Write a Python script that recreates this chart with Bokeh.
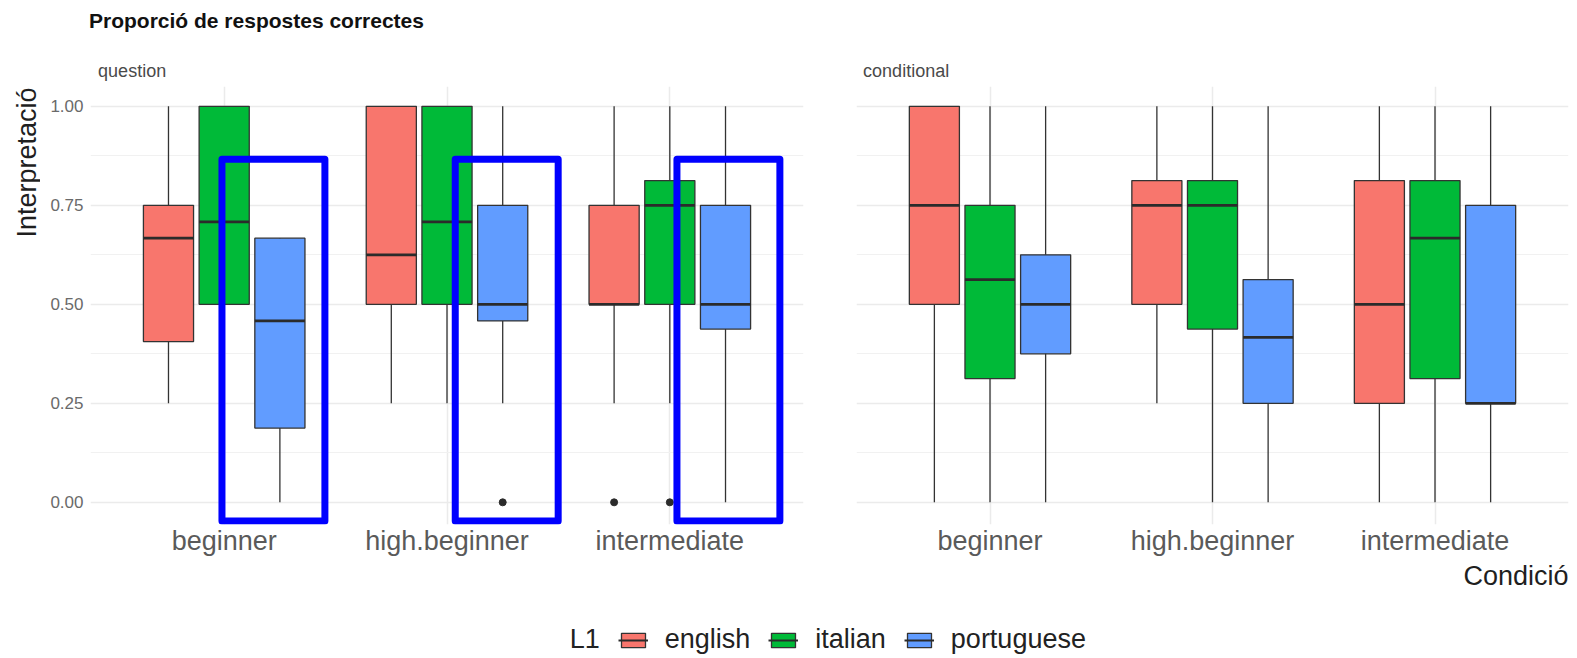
import math
from bokeh.plotting import figure
from bokeh.models import (ColumnDataSource, Range1d, FixedTicker, NumeralTickFormatter,
                          Label, Legend, LegendItem)
from bokeh.layouts import column, row
from bokeh.embed import file_html
from bokeh.resources import INLINE

# ---------------- data ----------------
title_text = "Proporció de respostes correctes"
facets = ["question", "conditional"]
categories = ["beginner", "high.beginner", "intermediate"]
groups = ["english", "italian", "portuguese"]
group_colors = ["#F8766D", "#00BA38", "#619CFF"]
y_ticks = [0.0, 0.25, 0.5, 0.75, 1.0]
y_minor_ticks = [0.125, 0.375, 0.625, 0.875]
y_label = "Interpretació"
x_label = "Condició"
legend_title = "L1"

# values ordered (category, group): beginner e/i/p, high.beginner e/i/p, intermediate e/i/p
question_low = [0.25, 0.5, 0.0, 0.25, 0.25, 0.25, 0.25, 0.25, 0.0]
question_q1 = [0.406, 0.5, 0.1875, 0.5, 0.5, 0.458, 0.5, 0.5, 0.4375]
question_med = [0.667, 0.708, 0.458, 0.625, 0.708, 0.5, 0.5, 0.75, 0.5]
question_q3 = [0.75, 1.0, 0.667, 1.0, 1.0, 0.75, 0.75, 0.8125, 0.75]
question_high = [1.0, 1.0, 0.667, 1.0, 1.0, 1.0, 1.0, 1.0, 1.0]
question_out_cat = ["high.beginner", "intermediate", "intermediate"]
question_out_group = ["portuguese", "english", "italian"]
question_out_val = [0.0, 0.0, 0.0]

conditional_low = [0.0, 0.0, 0.0, 0.25, 0.0, 0.0, 0.0, 0.0, 0.0]
conditional_q1 = [0.5, 0.3125, 0.375, 0.5, 0.4375, 0.25, 0.25, 0.3125, 0.25]
conditional_med = [0.75, 0.5625, 0.5, 0.75, 0.75, 0.4167, 0.5, 0.667, 0.25]
conditional_q3 = [1.0, 0.75, 0.625, 0.8125, 0.8125, 0.5625, 0.8125, 0.8125, 0.75]
conditional_high = [1.0, 1.0, 1.0, 1.0, 1.0, 1.0, 1.0, 1.0, 1.0]
conditional_out_cat = []
conditional_out_group = []
conditional_out_val = []

# highlighted boxes (blue frames) in the question facet
highlight_group = "portuguese"
highlight_categories = ["beginner", "high.beginner", "intermediate"]
highlight_y = [-0.047, 0.866]

# ---------------- styling constants ----------------
FONT = "Liberation Sans"
DODGE = 0.25
BOX_W = 0.225
HL_W = 0.462
HL_NUDGE = [-0.029, 0.018, 0.013]
OUTLINE = "#333333"
W_TOTAL = 1577
W_YLAB = 40
H_HEAD = 86
H_ROW = 474
H_FOOT = 98


def xpos(cat, grp):
    return categories.index(cat) + 1 + (groups.index(grp) - 1) * DODGE


def make_panel(low, q1, med, q3, high, ocat, ogrp, oval, width, bl, br, show_y):
    p = figure(width=width, height=H_ROW, x_range=Range1d(0.4, 3.6), y_range=Range1d(-0.056, 1.05),
               output_backend="svg", toolbar_location=None, title=None,
               min_border_left=bl, min_border_right=br, min_border_top=0, min_border_bottom=36,
               y_axis_location="left" if show_y else None)
    p.outline_line_color = None
    p.background_fill_color = "white"

    # grids
    p.xgrid.ticker = FixedTicker(ticks=[1, 2, 3])
    p.ygrid.ticker = FixedTicker(ticks=y_ticks, minor_ticks=y_minor_ticks)
    p.xgrid.grid_line_color = "#EBEBEB"
    p.xgrid.grid_line_width = 1.5
    p.ygrid.grid_line_color = "#EBEBEB"
    p.ygrid.grid_line_width = 1.5
    p.ygrid.minor_grid_line_color = "#F1F1F1"
    p.ygrid.minor_grid_line_width = 1.0

    # x axis
    xa = p.xaxis[0]
    xa.ticker = FixedTicker(ticks=[1, 2, 3])
    xa.major_label_overrides = {i + 1: c for i, c in enumerate(categories)}
    xa.axis_line_color = None
    xa.major_tick_line_color = None
    xa.minor_tick_line_color = None
    xa.major_tick_out = 0
    xa.major_tick_in = 0
    xa.major_label_standoff = 1
    xa.major_label_text_font = FONT
    xa.major_label_text_font_size = "27px"
    xa.major_label_text_color = "#5a5a5a"

    if show_y:
        ya = p.yaxis[0]
        ya.ticker = FixedTicker(ticks=y_ticks, minor_ticks=y_minor_ticks)
        ya.formatter = NumeralTickFormatter(format="0.00")
        ya.axis_line_color = None
        ya.major_tick_line_color = None
        ya.minor_tick_line_color = None
        ya.major_tick_out = 0
        ya.major_tick_in = 0
        ya.minor_tick_out = 0
        ya.minor_tick_in = 0
        ya.major_label_standoff = 7
        ya.major_label_text_font = FONT
        ya.major_label_text_font_size = "17px"
        ya.major_label_text_color = "#6a6a6a"

    # box data
    xs, lefts, rights, colors = [], [], [], []
    for c in categories:
        for gi, g in enumerate(groups):
            x = xpos(c, g)
            xs.append(x)
            lefts.append(x - BOX_W / 2)
            rights.append(x + BOX_W / 2)
            colors.append(group_colors[gi])
    src = ColumnDataSource(dict(x=xs, left=lefts, right=rights, low=low, q1=q1, med=med,
                                q3=q3, high=high, color=colors))
    p.segment(x0="x", y0="low", x1="x", y1="high", source=src, line_color=OUTLINE, line_width=1.3)
    p.quad(left="left", right="right", bottom="q1", top="q3", source=src, fill_color="color",
           line_color=OUTLINE, line_width=1.3)
    p.segment(x0="left", y0="med", x1="right", y1="med", source=src, line_color="#2b2b2b", line_width=2.8)

    if oval:
        osrc = ColumnDataSource(dict(x=[xpos(c, g) for c, g in zip(ocat, ogrp)], y=oval))
        p.scatter(x="x", y="y", source=osrc, size=7, color="#2b2b2b")
    return p


left = make_panel(question_low, question_q1, question_med, question_q3, question_high,
                  question_out_cat, question_out_group, question_out_val,
                  width=830 - W_YLAB, bl=90 - W_YLAB, br=27, show_y=True)
right = make_panel(conditional_low, conditional_q1, conditional_med, conditional_q3,
                   conditional_high, conditional_out_cat, conditional_out_group, conditional_out_val,
                   width=747, bl=26, br=9, show_y=False)

# highlight frames
hx = [xpos(c, highlight_group) + n for c, n in zip(highlight_categories, HL_NUDGE)]
hsrc = ColumnDataSource(dict(left=[x - HL_W / 2 for x in hx], right=[x + HL_W / 2 for x in hx],
                             bottom=[highlight_y[0]] * len(hx), top=[highlight_y[1]] * len(hx)))
left.quad(left="left", right="right", bottom="bottom", top="top", source=hsrc, fill_color=None,
          line_color="#0000FF", line_width=7, line_join="round")


def blank_fig(w, h):
    f = figure(width=w, height=h, x_range=Range1d(0, w), y_range=Range1d(h, 0),
               output_backend="svg", toolbar_location=None, x_axis_location=None,
               y_axis_location=None, min_border=0)
    f.outline_line_color = None
    f.grid.visible = False
    return f


# y-axis title strip
ylab = blank_fig(W_YLAB, H_ROW)
ylab.add_layout(Label(x=26, y=1, text=y_label, angle=math.pi / 2, text_font=FONT,
                      text_font_size="27px", text_color="#1f1f1f", text_align="right",
                      text_baseline="alphabetic"))

# header: title + facet strips
head = blank_fig(W_TOTAL, H_HEAD)
head.add_layout(Label(x=88.5, y=19.7, text=title_text, text_font=FONT, text_font_size="21px",
                      text_font_style="bold", text_color="#111111", text_baseline="alphabetic"))
for fx, fname in zip([97.6, 862.6], facets):
    head.add_layout(Label(x=fx, y=70.5, text=fname, text_font=FONT, text_font_size="18px",
                          text_color="#4a4a4a", text_baseline="alphabetic"))

# footer: x-axis title + legend
foot = blank_fig(W_TOTAL, H_FOOT)
foot.add_layout(Label(x=1568, y=15, text=x_label, text_font=FONT, text_font_size="27px",
                      text_color="#1f1f1f", text_align="right", text_baseline="alphabetic"))
items = []
r0 = foot.quad(left=[-3], right=[-2], bottom=[-3], top=[-2], fill_alpha=0, line_alpha=0)
items.append(LegendItem(label=legend_title, renderers=[r0]))
for g, c in zip(groups, group_colors):
    r1 = foot.quad(left=[-3], right=[-2], bottom=[-3], top=[-2], fill_color=c,
                   line_color=OUTLINE, line_width=1.3)
    r2 = foot.segment(x0=[-3], y0=[-2.5], x1=[-2], y1=[-2.5], line_color="#2b2b2b", line_width=2)
    items.append(LegendItem(label=g, renderers=[r1, r2]))
legend = Legend(items=items, orientation="horizontal", location=(522.7, 3),
                padding=0, margin=0, border_line_color=None, background_fill_alpha=0,
                glyph_width=30, glyph_height=18, label_standoff=17, spacing=18,
                label_text_font=FONT, label_text_font_size="27px", label_text_color="#222222")
foot.add_layout(legend)

layout = column(head, row(ylab, left, right), foot)
open("out.html", "w").write(file_html(layout, INLINE))
